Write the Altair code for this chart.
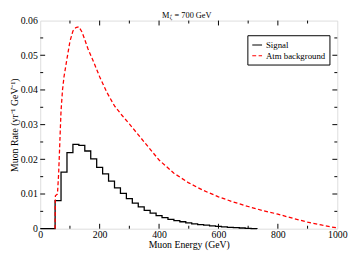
import altair as alt
import pandas as pd

# ---------------- data ----------------
series_names = ["Signal", "Atm background"]

# signal histogram: left bin edges (GeV) and rate in each bin
sig_energy = [0, 50, 70, 90, 110, 130, 150, 170, 190, 210, 230, 250, 270, 290, 310,
              330, 350, 370, 390, 410, 430, 450, 470, 490, 510, 530, 550, 570, 590,
              610, 630, 650, 670, 690, 710, 730]
sig_rate = [0, 0.0081, 0.0163, 0.0219, 0.0243, 0.0240, 0.0224, 0.0201, 0.0177, 0.0158,
            0.0137, 0.0118, 0.0102, 0.0087, 0.0074, 0.0063, 0.0053, 0.0045, 0.0038, 0.0032,
            0.0027, 0.0023, 0.0020, 0.0017, 0.0014, 0.0012, 0.0010, 0.0008, 0.0007, 0.0005,
            0.0004, 0.0003, 0.0002, 0.0001, 0.00005, 0]

# atmospheric background curve
bkg_energy = [50, 51, 58, 62, 66, 70, 75, 80, 90, 100, 110, 120, 130, 140, 150, 160, 180,
              200, 225, 250, 275, 300, 350, 400, 450, 500, 550, 600, 650, 700, 750, 800,
              850, 900, 950, 1000]
bkg_rate = [0, 0.0095, 0.0100, 0.0160, 0.0250, 0.0340, 0.0400, 0.0438, 0.0490, 0.0540,
            0.0570, 0.0580, 0.0582, 0.0568, 0.0545, 0.0520, 0.0480, 0.0438, 0.0392, 0.0354,
            0.0327, 0.0302, 0.0250, 0.0198, 0.0160, 0.0132, 0.0110, 0.0092, 0.0077, 0.0064,
            0.0052, 0.0042, 0.0030, 0.0019, 0.0010, 0.0002]

x_major = [0, 200, 400, 600, 800, 1000]
x_minor = [100, 300, 500, 700, 900]
y_major = [0, 0.01, 0.02, 0.03, 0.04, 0.05, 0.06]
y_minor = [0.005, 0.015, 0.025, 0.035, 0.045, 0.055]

title_parts = ["M", "\u03b6", "= 700 GeV"]
x_title = "Muon Energy (GeV)"
y_title = "Muon Rate (yr\u207b\u00b9 GeV\u207b\u00b9)"

# ---------------- chart ----------------
W, H = 304, 213
FONT = "Liberation Serif"

sig = pd.DataFrame({"E": sig_energy, "R": sig_rate, "series": series_names[0]})
bkg = pd.DataFrame({"E": bkg_energy, "R": bkg_rate, "series": series_names[1]})

xscale = alt.Scale(domain=[0, 1000], nice=False, zero=False)
yscale = alt.Scale(domain=[0, 0.06], nice=False)

legend = alt.Legend(
    title=None, orient="none", legendX=212, legendY=15,
    fillColor="white", strokeColor="black", padding=4, cornerRadius=0,
    symbolType="stroke", symbolSize=100, symbolStrokeWidth=1.2,
    labelFont=FONT, labelFontSize=9, labelColor="black", labelOffset=3,
    rowPadding=0,
)
color = alt.Color("series:N", scale=alt.Scale(domain=series_names, range=["#000000", "#ff0000"]),
                  legend=legend)
dash = alt.StrokeDash("series:N", scale=alt.Scale(domain=series_names, range=[[1, 0], [4, 2.5]]),
                      legend=legend)

xaxis = alt.Axis(values=x_major, ticks=False, domain=False, grid=False, format="d",
                 labelOverlap=False, labelFlush=False,
                 labelFont=FONT, labelFontSize=10, labelColor="black", labelPadding=1,
                 title=x_title, titleFont=FONT, titleFontSize=10, titleFontWeight="normal",
                 titleColor="black", titlePadding=0)
yaxis = alt.Axis(values=y_major, ticks=False, domain=False, grid=False,
                 labelOverlap=False, labelFlush=False,
                 labelExpr="datum.value == 0 ? '0' : format(datum.value, '.2f')",
                 labelFont=FONT, labelFontSize=10, labelColor="black", labelPadding=3,
                 title=y_title, titleFont=FONT, titleFontSize=10, titleFontWeight="normal",
                 titleColor="black", titlePadding=1)

X = lambda: alt.X("E:Q", scale=xscale, axis=xaxis)
Y = lambda: alt.Y("R:Q", scale=yscale, axis=yaxis)

signal = alt.Chart(sig).mark_line(interpolate="step-after", strokeWidth=1.3).encode(
    x=X(), y=Y(), color=color, strokeDash=dash,
)
background = alt.Chart(bkg).mark_line(strokeWidth=1.3).encode(
    x=X(), y=Y(), color=color, strokeDash=dash,
)

def xticks(vals, length):
    d = pd.DataFrame({"E": vals})
    b = alt.Chart(d).mark_rule(color="black", strokeWidth=1).encode(
        x=X(), y=alt.value(H), y2=alt.value(H - length))
    t = alt.Chart(d).mark_rule(color="black", strokeWidth=1).encode(
        x=X(), y=alt.value(0), y2=alt.value(length))
    return [b, t]

def yticks(vals, length):
    d = pd.DataFrame({"R": vals})
    l = alt.Chart(d).mark_rule(color="black", strokeWidth=1).encode(
        y=Y(), x=alt.value(0), x2=alt.value(length))
    r = alt.Chart(d).mark_rule(color="black", strokeWidth=1).encode(
        y=Y(), x=alt.value(W), x2=alt.value(W - length))
    return [l, r]

tick_layers = xticks(x_major[1:-1], 5) + xticks(x_minor, 3) + yticks(y_major[1:-1], 5) + yticks(y_minor, 3)

t1 = alt.Chart(pd.DataFrame({"t": [title_parts[0]]})).mark_text(
    font=FONT, fontSize=8.5, align="left", baseline="alphabetic", color="black"
).encode(text="t:N", x=alt.value(124.7), y=alt.value(-3))
t2 = alt.Chart(pd.DataFrame({"t": [title_parts[1]]})).mark_text(
    font=FONT, fontSize=6, align="left", baseline="alphabetic", color="black"
).encode(text="t:N", x=alt.value(132.5), y=alt.value(-1.5))
t3 = alt.Chart(pd.DataFrame({"t": [title_parts[2]]})).mark_text(
    font=FONT, fontSize=8.5, align="left", baseline="alphabetic", color="black"
).encode(text="t:N", x=alt.value(137.5), y=alt.value(-3))

chart = alt.layer(signal, background, *tick_layers, t1, t2, t3).properties(
    width=W, height=H,
    autosize=alt.AutoSizeParams(type="none"),
    padding={"left": 33, "top": 10, "right": 12, "bottom": 22},
).configure_view(stroke="black", strokeWidth=1).configure(background="white")

chart.save("out.html", embed_options={"renderer": "svg", "actions": False})
